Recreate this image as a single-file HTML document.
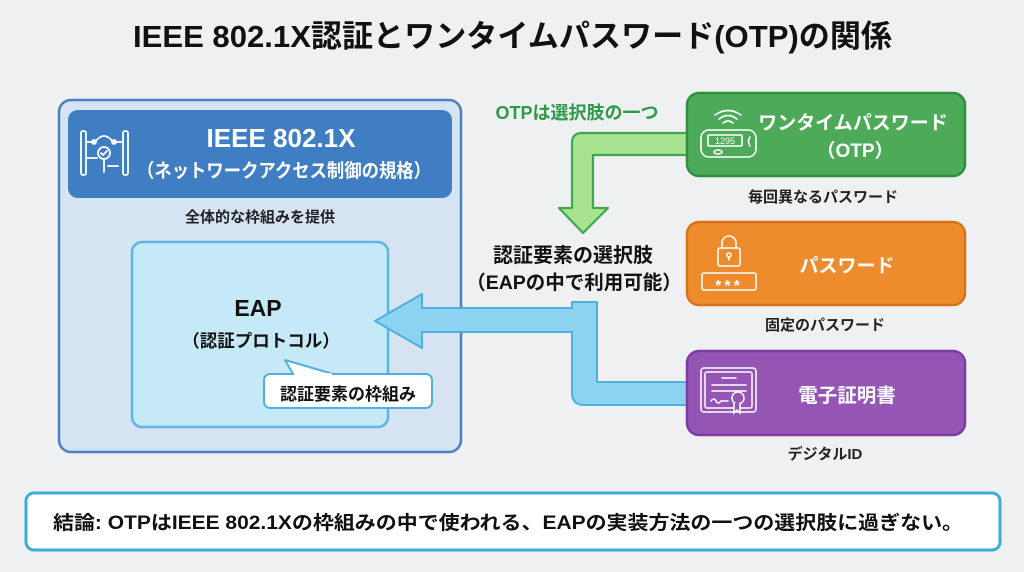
<!DOCTYPE html>
<html><head><meta charset="utf-8"><style>
html,body{margin:0;padding:0;background:#eef0f2;}
svg{display:block;}
text{font-family:"Liberation Sans","Noto Sans CJK JP",sans-serif;font-weight:bold;}
</style></head><body>
<svg width="1024" height="572" viewBox="0 0 1024 572" xmlns="http://www.w3.org/2000/svg">
<rect x="0" y="0" width="1024" height="572" fill="#eef0f2"/>
<!-- Title -->
<text x="133" y="47" font-size="31" fill="#111" textLength="759" lengthAdjust="spacingAndGlyphs">IEEE 802.1X認証とワンタイムパスワード(OTP)の関係</text>

<!-- Outer IEEE box -->
<rect x="59" y="100" width="402" height="352" rx="12" fill="#d6e3f3" stroke="#4a7fc1" stroke-width="2.5"/>
<rect x="68" y="110" width="384" height="88" rx="10" fill="#3f7ec2"/>
<!-- 802.1X icon -->
<g fill="none" stroke="#fff" stroke-width="1.8" stroke-linecap="round">
  <rect x="81" y="131" width="5" height="44" rx="2"/>
  <rect x="123" y="131" width="5" height="44" rx="2"/>
  <path d="M86,142 H95 M95,142 Q104,130 113,142 M113,142 H123"/>
  <circle cx="94" cy="142" r="2"/>
  <circle cx="114" cy="142" r="2"/>
  <path d="M86,158 H97"/>
  <circle cx="104" cy="153" r="6"/>
  <path d="M101,153 l2,2 l4,-4"/>
  <path d="M104,159 V172 M108,166 H118"/>
</g>
<text x="281" y="147" font-size="26" fill="#fff" text-anchor="middle">IEEE 802.1X</text>
<text x="137" y="177" font-size="19" fill="#fff" textLength="294" lengthAdjust="spacingAndGlyphs">（ネットワークアクセス制御の規格）</text>
<text x="260" y="222" font-size="15" fill="#222" text-anchor="middle">全体的な枠組みを提供</text>

<!-- EAP box -->
<rect x="132" y="242" width="256" height="185" rx="10" fill="#c6e9f7" stroke="#5ab7df" stroke-width="2.5"/>
<text x="258" y="316" font-size="23" fill="#111" text-anchor="middle">EAP</text>
<text x="261" y="347" font-size="17.5" fill="#111" text-anchor="middle">（認証プロトコル）</text>
<!-- callout -->
<path d="M293,374 L285,360 L333,374 Z" fill="#fff" stroke="#4fb0dd" stroke-width="2" stroke-linejoin="round"/>
<rect x="264" y="374" width="168" height="34" rx="6" fill="#fff" stroke="#4fb0dd" stroke-width="2"/>
<rect x="294" y="373" width="38" height="4" fill="#fff"/>
<text x="348" y="400" font-size="17" fill="#111" text-anchor="middle">認証要素の枠組み</text>

<!-- Blue connector arrow -->
<path d="M687,405 L584,405 Q572,405 572,393 L572,332 L422,332 L422,348 L375,321 L422,294 L422,308 L572,308 L572,302 L597,302 L597,382 L687,382 Z" fill="#8cd3f2" stroke="#4fb0dd" stroke-width="2" stroke-linejoin="round"/>

<!-- Green arrow -->
<path d="M688,133 L582,133 Q572,133 572,143 L572,208 L559,208 L583,233 L608,208 L593,208 L593,155 L688,155 Z" fill="#a8e390" stroke="#3fa84e" stroke-width="2.2" stroke-linejoin="round"/>
<text x="577" y="119" font-size="18" fill="#2e9a48" text-anchor="middle">OTPは選択肢の一つ</text>

<text x="573" y="262" font-size="20" fill="#111" text-anchor="middle">認証要素の選択肢</text>
<text x="574" y="289" font-size="19.5" fill="#111" text-anchor="middle">（EAPの中で利用可能）</text>

<!-- OTP box -->
<rect x="687" y="93" width="278" height="83" rx="12" fill="#4caa58" stroke="#2f8f3f" stroke-width="2.5"/>
<g fill="none" stroke="#fff" stroke-width="1.6" stroke-linecap="round">
  <rect x="701" y="130" width="55" height="27" rx="8"/>
  <rect x="708" y="135" width="34" height="11" rx="1"/>
  <ellipse cx="718" cy="152" rx="4" ry="2"/>
  <path d="M750,137 Q747,141 750,146"/>
  <path d="M723,123 Q728,119 733,123"/>
  <path d="M719,119 Q728,112 737,119"/>
  <path d="M715,115 Q728,106 741,115"/>
</g>
<text x="725" y="144" font-size="9" fill="#fff" text-anchor="middle" style="font-weight:normal">1295</text>
<text x="853" y="129" font-size="19" fill="#fff" text-anchor="middle">ワンタイムパスワード</text>
<text x="855" y="157" font-size="19" fill="#fff" text-anchor="middle">（OTP）</text>
<text x="823" y="202" font-size="15" fill="#222" text-anchor="middle">毎回異なるパスワード</text>

<!-- Password box -->
<rect x="687" y="222" width="278" height="83" rx="12" fill="#ee8b2c" stroke="#d77418" stroke-width="2.5"/>
<g fill="none" stroke="#fff" stroke-width="1.6" stroke-linecap="round">
  <path d="M722,248 V243 a7,7 0 0 1 14,0 V248"/>
  <rect x="718" y="248" width="22" height="18" rx="2"/>
  <circle cx="729" cy="255" r="2"/>
  <path d="M729,257 V260"/>
  <rect x="702" y="273" width="54" height="17" rx="2"/>
</g>
<text x="729" y="291" font-size="16" fill="#fff" text-anchor="middle" letter-spacing="3">***</text>
<text x="847" y="272" font-size="19" fill="#fff" text-anchor="middle">パスワード</text>
<text x="825" y="330" font-size="15" fill="#222" text-anchor="middle">固定のパスワード</text>

<!-- Cert box -->
<rect x="687" y="351" width="278" height="84" rx="12" fill="#9455b5" stroke="#7b3d9f" stroke-width="2.5"/>
<g fill="none" stroke="#fff" stroke-width="1.5" stroke-linecap="round">
  <rect x="701" y="368" width="55" height="44" rx="3"/>
  <rect x="705" y="372" width="47" height="36" rx="2"/>
  <path d="M722,378 H736 M712,385 H746 M712,391 H746"/>
  <path d="M711,401 q3,-4 5,0 t5,0 H728"/>
  <circle cx="738" cy="398" r="6" fill="#9455b5"/>
  <path d="M734,403 V413 L737,410 L740,413 V403" fill="#9455b5"/>
</g>
<text x="847" y="402" font-size="19.5" fill="#fff" text-anchor="middle">電子証明書</text>
<text x="825" y="459" font-size="15" fill="#222" text-anchor="middle">デジタルID</text>

<!-- Conclusion banner -->
<rect x="26" y="493" width="974" height="57" rx="8" fill="#fff" stroke="#3aaed8" stroke-width="3"/>
<text x="53" y="529" font-size="19" fill="#111" textLength="910" lengthAdjust="spacingAndGlyphs">結論: OTPはIEEE 802.1Xの枠組みの中で使われる、EAPの実装方法の一つの選択肢に過ぎない。</text>
</svg>
</body></html>
